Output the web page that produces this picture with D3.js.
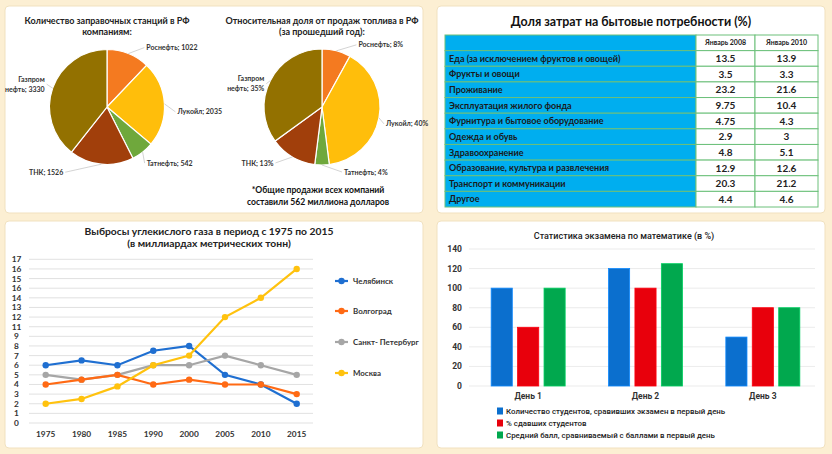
<!DOCTYPE html>
<html>
<head>
<meta charset="utf-8">
<script src="https://cdn.jsdelivr.net/npm/d3@7"></script>
<style>
  body { margin: 0; background: #fcefd3; }
  svg { display: block; font-family: Lato, "Open Sans", sans-serif; }
</style>
</head>
<body>
<svg id="board" width="832" height="454"></svg>
<script>
// ---- data ----
const companies = ["Роснефть", "Лукойл", "Татнефть", "ТНК", "Газпром нефть"];
const stations = [1022, 2035, 542, 1526, 3330];
const salesShare = [8, 40, 4, 13, 35];
const companyColors = ["#f47a20", "#ffbe0b", "#6fa83c", "#a13f0b", "#937100"];

const expenseItems = [
  "Еда (за исключением фруктов и овощей)", "Фрукты и овощи", "Проживание",
  "Эксплуатация жилого фонда", "Фурнитура и бытовое оборудование", "Одежда и обувь",
  "Здравоохранение", "Образование, культура и развлечения", "Транспорт и коммуникации", "Другое"
];
const jan2008 = [13.5, 3.5, 23.2, 9.75, 4.75, 2.9, 4.8, 12.9, 20.3, 4.4];
const jan2010 = [13.9, 3.3, 21.6, 10.4, 4.3, 3, 5.1, 12.6, 21.2, 4.6];
const tableHeads = ["Январь 2008", "Январь 2010"];

const years = ["1975", "1980", "1985", "1990", "2000", "2005", "2010", "2015"];
const chelyabinsk = [6, 6.5, 6, 7.5, 8, 5, 4, 2];
const volgograd = [4, 4.5, 5, 4, 4.5, 4, 4, 3];
const spb = [5, 4.5, 5, 6, 6, 7, 6, 5];
const moscow = [2, 2.5, 3.8, 6, 7, 11, 13, 16];
const cities = ["Челябинск", "Волгоград", "Санкт- Петербург", "Москва"];
const cityColors = ["#1f6fd1", "#ff6a14", "#a6a6a6", "#ffc20e"];
// tick labels exactly as printed on the original axis
const co2TickLabels = ["0","1","2","3","4","5","6","7","8","9","11","12","13","14","16","15","16","17"];

const days = ["День 1", "День 2", "День 3"];
const examSeries = [
  "Количество студентов, сравивших экзамен в первый день",
  "% сдавших студентов",
  "Средний балл, сравниваемый с баллами в первый день"
];
const examTook = [100, 120, 50];
const examPassed = [60, 100, 80];
const examScore = [100, 125, 80];
const examColors = ["#0b6fce", "#e8000c", "#01a84e"];

const svg = d3.select("#board");

// ---- panels ----
const panels = [[5, 6, 418, 207], [437, 6, 388, 207], [5, 221, 418, 227], [437, 221, 388, 227]];
svg.selectAll("rect.panel").data(panels).enter().append("rect")
  .attr("class", "panel")
  .attr("x", d => d[0]).attr("y", d => d[1])
  .attr("width", d => d[2]).attr("height", d => d[3])
  .attr("rx", 4).attr("fill", "#fff").attr("stroke", "#f1e1bf");

// ---- pies ----
function drawPie(values, cx, cy, r, suffix, titleLines, nudges) {
  const g = svg.append("g");
  g.selectAll("text.t").data(titleLines).enter().append("text")
    .attr("x", cx).attr("y", (d, i) => 24 + i * 11)
    .attr("text-anchor", "middle").attr("font-size", 9).attr("font-weight", 700)
    .attr("fill", "#222").text(d => d);

  const pie = d3.pie().sort(null).value(d => d.v);
  const arcs = pie(values.map((v, i) => ({ v, name: companies[i], i })));
  const arc = d3.arc().innerRadius(0).outerRadius(r);
  const pg = g.append("g").attr("transform", `translate(${cx},${cy})`);
  pg.selectAll("path").data(arcs).enter().append("path")
    .attr("d", arc).attr("fill", d => companyColors[d.data.i])
    .attr("stroke", "#fff").attr("stroke-width", 1.2);

  arcs.forEach((a, k) => {
    const mid = (a.startAngle + a.endAngle) / 2;
    const ex = cx + r * Math.sin(mid), ey = cy - r * Math.cos(mid);
    const lx = ex + nudges[k][0], ly = ey + nudges[k][1];
    g.append("line").attr("x1", ex).attr("y1", ey).attr("x2", lx).attr("y2", ly)
      .attr("stroke", "#c8c8c8").attr("stroke-width", 0.8);
    const right = nudges[k][0] > 0;
    const label = a.data.name + "; " + a.data.v + suffix;
    const lines = a.data.name.includes(" ")
      ? [a.data.name.split(" ")[0], label.slice(a.data.name.indexOf(" ") + 1)]
      : [label];
    const t = g.append("text")
      .attr("text-anchor", right ? "start" : "end")
      .attr("font-size", 7).attr("font-weight", 700).attr("fill", "#333");
    lines.forEach((s, j) => {
      t.append("tspan").attr("x", lx + (right ? 2 : -2))
        .attr("y", ly + 2.6 + (j - (lines.length - 1) / 2) * 10).text(s);
    });
  });
}

drawPie(stations, 107, 107, 57.5, "", ["Количество заправочных станций в РФ", "компаниям:"],
  [[16, -6], [11, 8], [2, 11], [-36, 8], [-6, -4]]);
drawPie(salesShare, 322, 107, 58, "%", ["Относительная доля от продаж топлива в РФ", "(за прошедший год):"],
  [[20, -6], [5, 6], [20, 7], [-17, 6], [-4, 3]]);

svg.selectAll("text.note").data(["*Общие продажи всех компаний", "составили 562 миллиона долларов"])
  .enter().append("text")
  .attr("x", 318).attr("y", (d, i) => 193 + i * 12)
  .attr("text-anchor", "middle").attr("font-size", 8.6).attr("font-weight", 700)
  .attr("fill", "#111").text(d => d);

// ---- table ----
const tg = svg.append("g");
tg.append("text").attr("x", 631).attr("y", 26).attr("text-anchor", "middle")
  .attr("font-size", 12.4).attr("font-weight", 700).attr("fill", "#111")
  .text("Доля затрат на бытовые потребности (%)");

const rowKeys = ["head"].concat(expenseItems);
const rowY = d3.scaleBand().domain(rowKeys).range([35, 207]);
const colX = [445, 696, 755, 818];
const greenLine = "#6cc07a";

tg.selectAll("rect.lab").data(rowKeys).enter().append("rect")
  .attr("x", colX[0]).attr("y", d => rowY(d))
  .attr("width", colX[1] - colX[0]).attr("height", rowY.bandwidth())
  .attr("fill", "#00aeef").attr("stroke", greenLine).attr("stroke-width", 1);
[1, 2].forEach(c => {
  tg.selectAll("rect.c" + c).data(rowKeys).enter().append("rect")
    .attr("x", colX[c]).attr("y", d => rowY(d))
    .attr("width", colX[c + 1] - colX[c]).attr("height", rowY.bandwidth())
    .attr("fill", "#fff").attr("stroke", greenLine).attr("stroke-width", 1);
});
tg.selectAll("text.lab").data(expenseItems).enter().append("text")
  .attr("x", colX[0] + 4).attr("y", d => rowY(d) + rowY.bandwidth() / 2 + 3.3)
  .attr("font-size", 9).attr("font-weight", 700).attr("fill", "#1a1a1a").text(d => d);
tableHeads.forEach((h, c) => {
  tg.append("text").attr("x", (colX[c + 1] + colX[c + 2]) / 2)
    .attr("y", rowY("head") + rowY.bandwidth() / 2 + 2.6)
    .attr("text-anchor", "middle").attr("font-size", 7).attr("font-weight", 700)
    .attr("fill", "#222").text(h);
});
[jan2008, jan2010].forEach((vals, c) => {
  tg.selectAll("text.v" + c).data(vals).enter().append("text")
    .attr("x", (colX[c + 1] + colX[c + 2]) / 2)
    .attr("y", (d, i) => rowY(expenseItems[i]) + rowY.bandwidth() / 2 + 3.6)
    .attr("text-anchor", "middle").attr("font-size", 10).attr("font-weight", 700)
    .attr("fill", "#222").text(d => String(d));
});

// ---- line chart ----
const lg = svg.append("g");
lg.selectAll("text.t").data(["Выбросы углекислого газа в период с 1975 по 2015", "(в миллиардах метрических тонн)"])
  .enter().append("text")
  .attr("x", 209).attr("y", (d, i) => 235 + i * 12)
  .attr("text-anchor", "middle").attr("font-size", 10.3).attr("font-weight", 700)
  .attr("fill", "#222").text(d => d);

const xL = d3.scalePoint().domain(years).range([45.7, 296.7]);
const yL = d3.scaleLinear().domain([0, 17]).range([423, 259.3]);
const ticksL = d3.range(0, 18);
lg.selectAll("line.grid").data(ticksL).enter().append("line")
  .attr("x1", 29).attr("x2", 313).attr("y1", d => yL(d)).attr("y2", d => yL(d))
  .attr("stroke", "#d9d9d9").attr("stroke-width", 0.8);
lg.selectAll("text.yt").data(ticksL).enter().append("text")
  .attr("x", 16.5).attr("y", d => yL(d) + 3)
  .attr("text-anchor", "middle").attr("font-size", 8.3).attr("font-weight", 700)
  .attr("fill", "#333").text(d => co2TickLabels[d]);
lg.selectAll("text.xt").data(years).enter().append("text")
  .attr("x", d => xL(d)).attr("y", 436.5)
  .attr("text-anchor", "middle").attr("font-size", 8.3).attr("font-weight", 700)
  .attr("fill", "#333").text(d => d);

const seriesL = [chelyabinsk, volgograd, spb, moscow];
const drawOrder = [0, 2, 1, 3];
const lineGen = d3.line().x((d, i) => xL(years[i])).y(d => yL(d));
drawOrder.forEach(s => {
  lg.append("path").datum(seriesL[s]).attr("d", lineGen)
    .attr("fill", "none").attr("stroke", cityColors[s]).attr("stroke-width", 2.2);
  lg.selectAll("circle.s" + s).data(seriesL[s]).enter().append("circle")
    .attr("cx", (d, i) => xL(years[i])).attr("cy", d => yL(d)).attr("r", 3.2)
    .attr("fill", cityColors[s]);
});
const legY = [281, 311, 342, 373];
cities.forEach((c, i) => {
  lg.append("line").attr("x1", 335).attr("x2", 348).attr("y1", legY[i]).attr("y2", legY[i])
    .attr("stroke", cityColors[i]).attr("stroke-width", 2.2);
  lg.append("circle").attr("cx", 341.5).attr("cy", legY[i]).attr("r", 3.2).attr("fill", cityColors[i]);
  lg.append("text").attr("x", 353).attr("y", legY[i] + 3).attr("font-size", 7.9)
    .attr("font-weight", 700).attr("fill", "#333").text(c);
});

// ---- bar chart ----
const bg = svg.append("g").style("font-family", "Roboto, sans-serif");
bg.append("text").attr("x", 624).attr("y", 239).attr("text-anchor", "middle")
  .attr("font-size", 9).attr("font-weight", 500).attr("fill", "#222")
  .text("Статистика экзамена по математике (в %)");

const yB = d3.scaleLinear().domain([0, 140]).range([386, 249]);
const x0 = d3.scaleBand().domain(days).range([469.5, 821.5]);
const x1 = d3.scaleBand().domain(examSeries).range([0, 74]).paddingInner(0.2);
const ticksB = d3.range(0, 141, 20);
bg.selectAll("line.grid").data(ticksB).enter().append("line")
  .attr("x1", 469).attr("x2", 815).attr("y1", d => yB(d)).attr("y2", d => yB(d))
  .attr("stroke", "#e6e6e6").attr("stroke-width", 0.8);
bg.selectAll("text.yt").data(ticksB).enter().append("text")
  .attr("x", 462).attr("y", d => yB(d) + 3).attr("text-anchor", "end")
  .attr("font-size", 8.5).attr("font-weight", 700).attr("fill", "#333").text(d => d);
bg.selectAll("text.xt").data(days).enter().append("text")
  .attr("x", d => x0(d) + x0.bandwidth() / 2).attr("y", 399)
  .attr("text-anchor", "middle").attr("font-size", 8.5).attr("font-weight", 700)
  .attr("fill", "#333").text(d => d);

const examVals = [examTook, examPassed, examScore];
days.forEach((day, di) => {
  const gx = x0(day) + x0.bandwidth() / 2 - 37;
  examSeries.forEach((s, si) => {
    const v = examVals[si][di];
    bg.append("rect")
      .attr("x", gx + x1(s)).attr("y", yB(v))
      .attr("width", x1.bandwidth()).attr("height", yB(0) - yB(v))
      .attr("fill", examColors[si])
      .attr("stroke", d3.color(examColors[si]).brighter(0.6)).attr("stroke-width", 0.8);
  });
});
examSeries.forEach((s, i) => {
  const y = 411 + i * 12;
  bg.append("rect").attr("x", 497).attr("y", y - 3.5).attr("width", 6).attr("height", 7)
    .attr("fill", examColors[i]);
  bg.append("text").attr("x", 506).attr("y", y + 3).attr("font-size", 7.9)
    .attr("font-weight", 500).attr("fill", "#222").text(s);
});
</script>
</body>
</html>
